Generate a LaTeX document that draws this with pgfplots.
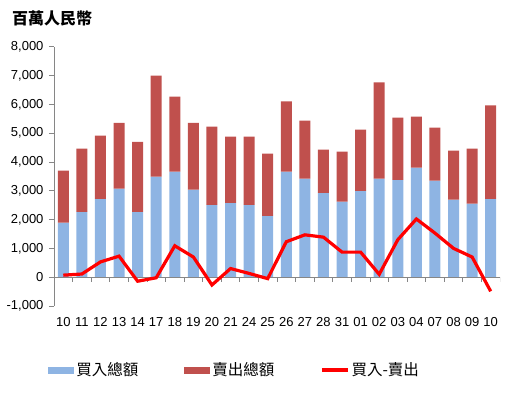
\documentclass[border=0pt]{standalone}
\usepackage{pgfplots}
\pgfplotsset{compat=1.18}
\usepackage{pgfplotstable}
\usepackage{fontspec}
\setmainfont{Liberation Sans}
\newfontfamily\cjk{Noto Sans CJK TC}
\definecolor{buyblue}{HTML}{8EB4E3}
\definecolor{sellred}{HTML}{C0504D}
\definecolor{axgray}{HTML}{868686}
\pgfplotstableread{
x buy sell net
0 1890 1810 70
1 2270 2190 110
2 2720 2190 530
3 3070 2290 730
4 2270 2430 -140
5 3490 3510 -20
6 3660 2610 1090
7 3040 2320 700
8 2510 2720 -270
9 2580 2300 300
10 2510 2370 130
11 2130 2160 -50
12 3660 2440 1230
13 3420 2010 1470
14 2930 1500 1390
15 2620 1740 870
16 3000 2120 870
17 3420 3340 100
18 3380 2160 1300
19 3800 1770 2020
20 3350 1840 1530
21 2690 1700 1000
22 2550 1910 700
23 2720 3240 -490
}\datatable
\begin{document}
\begin{tikzpicture}
\useasboundingbox (-54bp,-90bp) rectangle (462bp,306bp);
\node[anchor=west, font=\cjk\bfseries\fontsize{16bp}{19bp}\selectfont, inner sep=0pt] at (-42bp,288bp) {百萬人民幣};
\begin{axis}[
  scale only axis, width=446bp, height=259.3bp,
  xmin=-0.5, xmax=23.5, ymin=-1000, ymax=8000,
  ybar stacked, bar width=11bp, reverse stacked plots=false,
  axis y line*=left, axis x line*=bottom,
  x axis line style={draw=none},
  y axis line style={draw=axgray, line width=0.8bp},
  xtick={0,...,23},
  xticklabels={10,11,12,13,14,17,18,19,20,21,24,25,26,27,28,31,01,02,03,04,07,08,09,10},
  xtick style={draw=none},
  ytick={-1000,0,...,8000},
  ytick style={draw=axgray, line width=0.8bp},
  tick align=outside, major tick length=5bp,
  /pgf/number format/assume math mode=true,
  /pgf/number format/1000 sep={,},
  yticklabel style={font=\fontsize{13bp}{15bp}\selectfont, xshift=-2bp},
  xticklabel style={font=\fontsize{13bp}{15bp}\selectfont, yshift=-3bp},
  legend columns=3,
  legend style={draw=none, at={(0.405,-0.247)}, anchor=center,
    font=\cjk\fontsize{15.5bp}{18bp}\selectfont,
    /tikz/every even column/.append style={column sep=44bp}},
]
\addplot[fill=buyblue, draw=none,
  legend image code/.code={\fill[buyblue] (0bp,-3.5bp) rectangle (26bp,3.5bp);}]
  table[x=x, y=buy] {\datatable};
\addlegendentry{買入總額}
\addplot[fill=sellred, draw=none,
  legend image code/.code={\fill[sellred] (0bp,-3.5bp) rectangle (26bp,3.5bp);}]
  table[x=x, y=sell] {\datatable};
\addlegendentry{賣出總額}
\draw[axgray, line width=0.8bp] (axis cs:-0.5,0) -- (axis cs:23.5,0);
\pgfplotsinvokeforeach{-0.5,0.5,...,23.5}{
  \draw[axgray, line width=0.8bp] (axis cs:#1,0) -- ([yshift=-5bp]axis cs:#1,0);
}
\addplot[stack plots=false, sharp plot, red, line width=3.2bp, mark=none,
  legend image code/.code={\draw[red, line width=3.2bp] (0bp,0bp) -- (26bp,0bp);}]
  table[x=x, y=net] {\datatable};
\addlegendentry{買入-賣出}
\end{axis}
\end{tikzpicture}
\end{document}
